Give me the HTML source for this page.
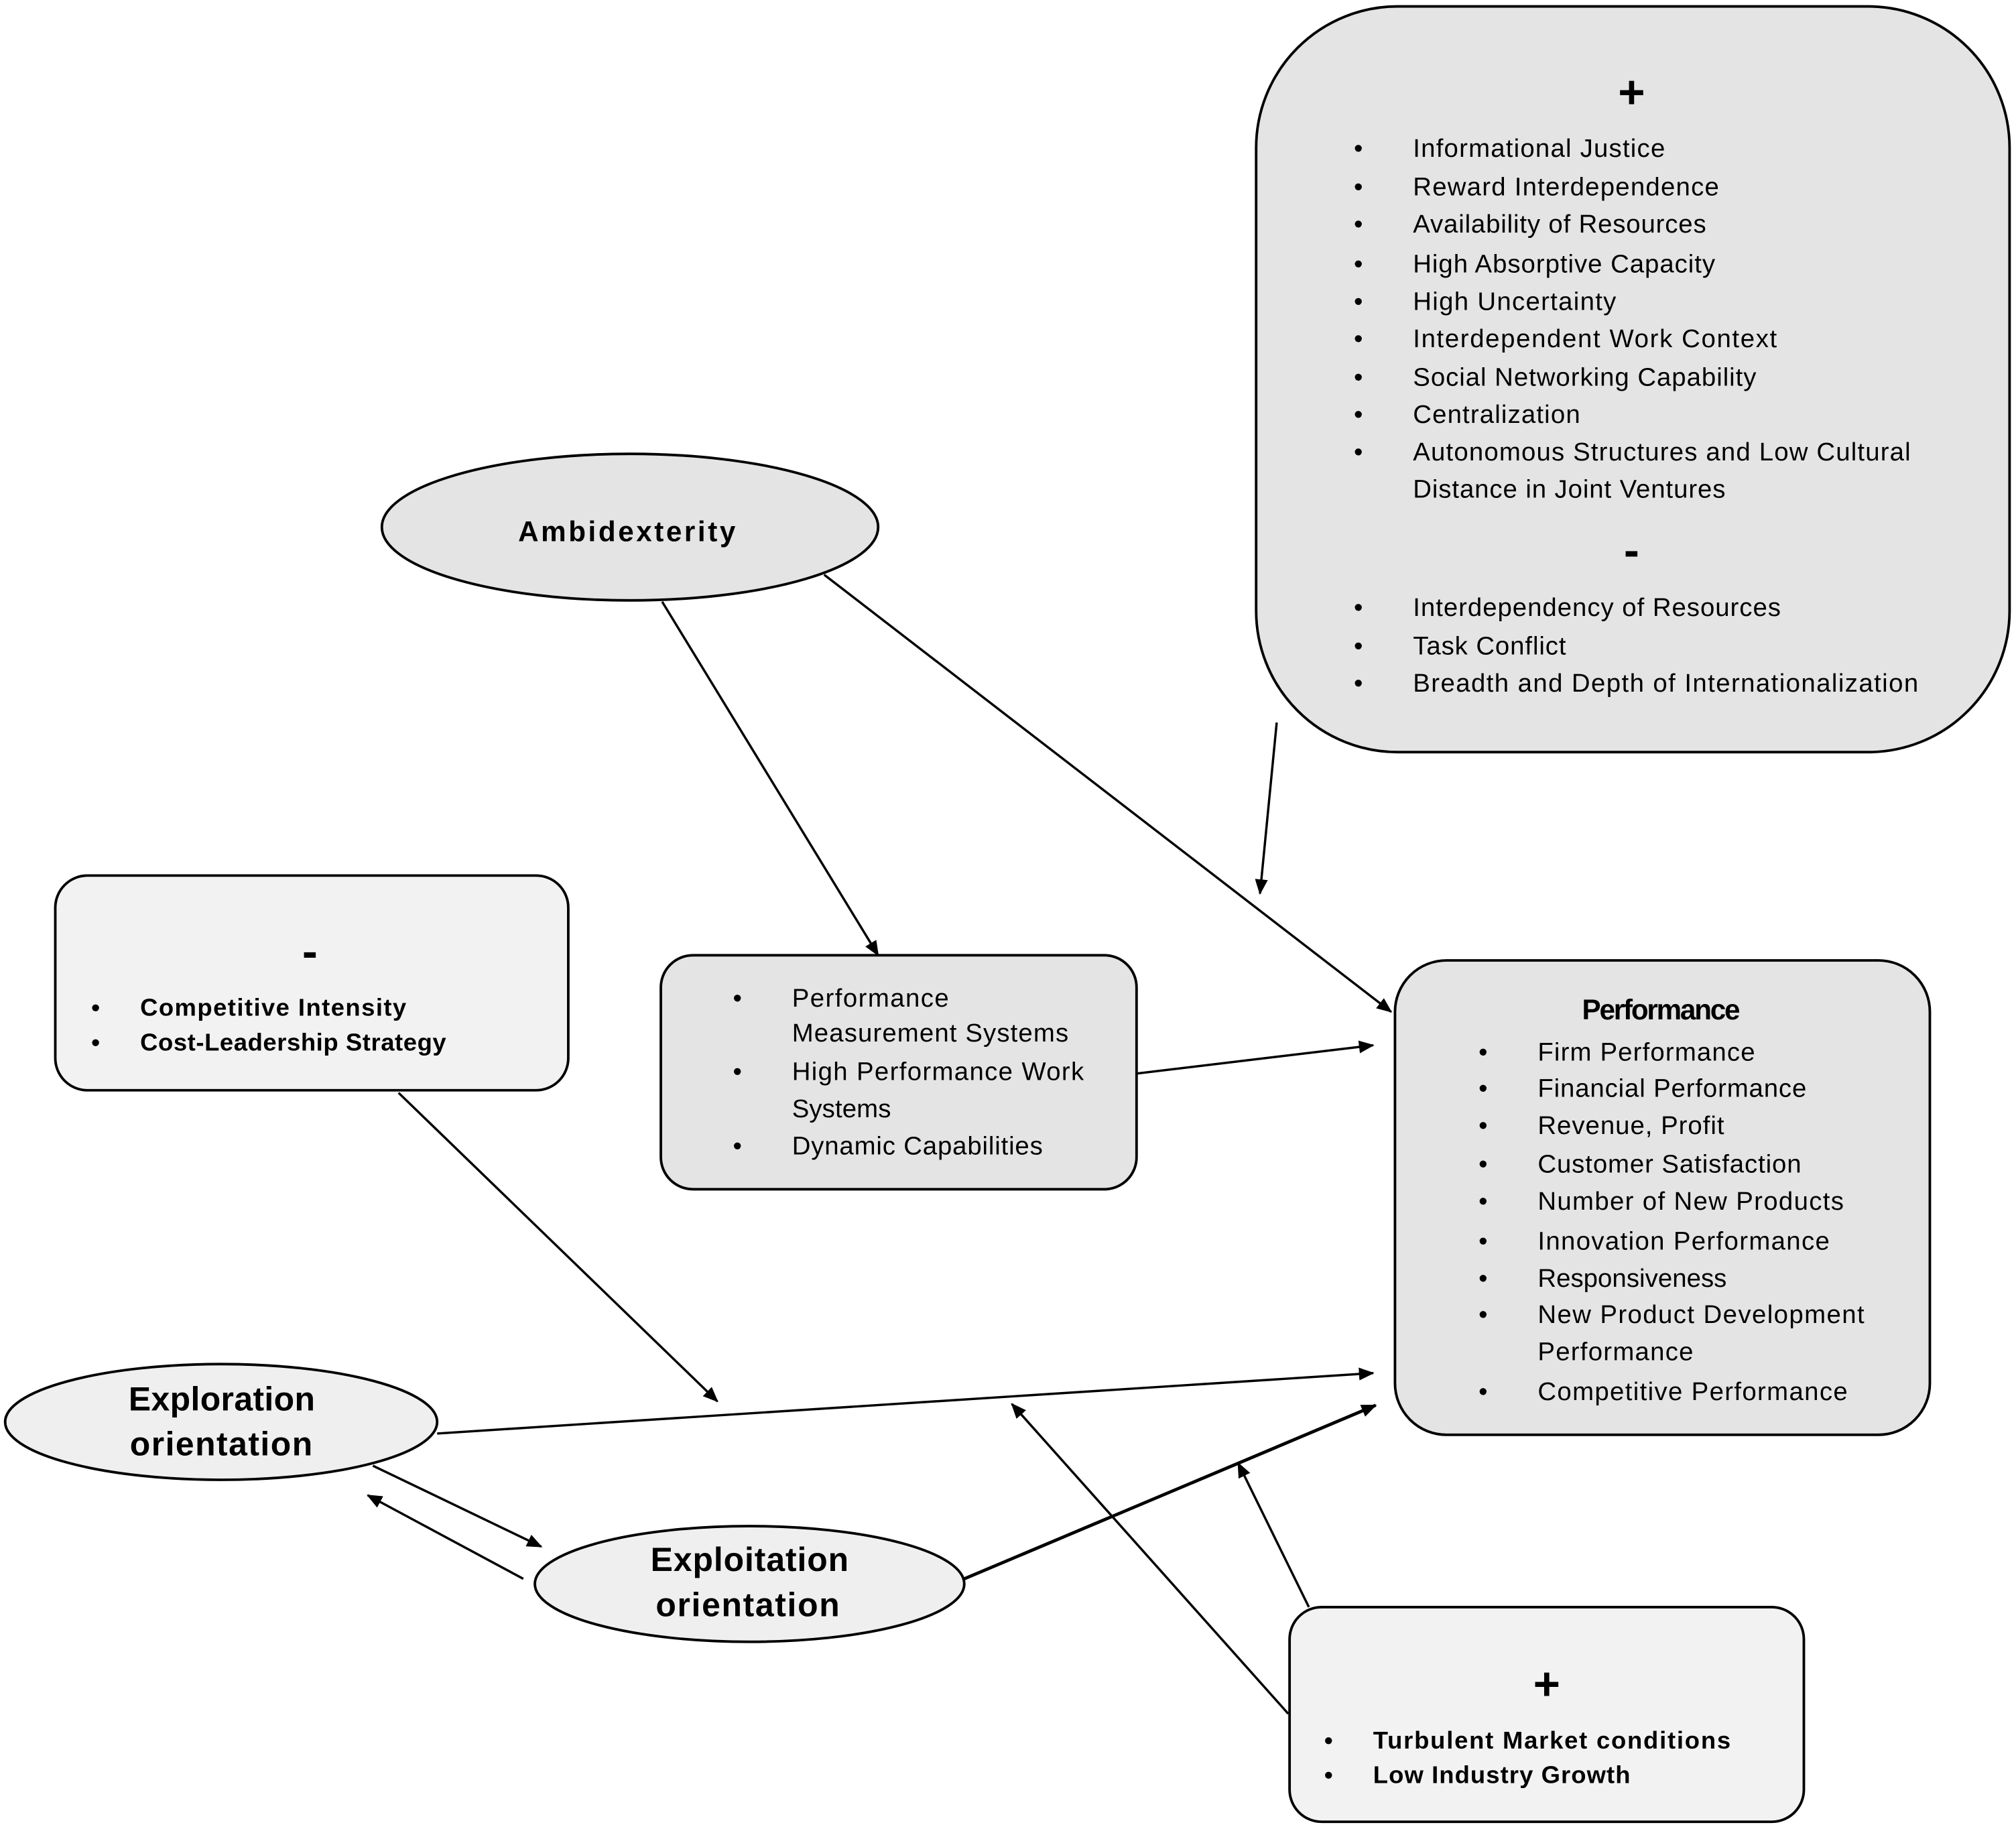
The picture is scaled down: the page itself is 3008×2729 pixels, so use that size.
<!DOCTYPE html>
<html><head><meta charset="utf-8"><style>html,body{margin:0;padding:0;background:#fff}svg{display:block}text{font-family:"Liberation Sans",sans-serif;fill:#000}</style></head><body>
<svg width="3008" height="2729" viewBox="0 0 1568 1422.6" preserveAspectRatio="none" xmlns="http://www.w3.org/2000/svg">
<defs><marker id="a" markerWidth="12" markerHeight="10" refX="11" refY="5" orient="auto" markerUnits="userSpaceOnUse"><path d="M0,0 L12,5 L0,10 z" fill="#000"/></marker></defs>
<rect width="1568" height="1423" fill="#fff"/>
<g stroke="#000" stroke-width="2">
<rect x="977" y="5" width="586" height="580" rx="110" fill="#e4e4e4"/>
<ellipse cx="490" cy="410" rx="193" ry="57" fill="#e4e4e4"/>
<rect x="43" y="681" width="399" height="167" rx="25" fill="#f2f2f2"/>
<rect x="514" y="743" width="370" height="182" rx="25" fill="#e4e4e4"/>
<rect x="1085" y="747" width="416" height="369" rx="40" fill="#e4e4e4"/>
<ellipse cx="172" cy="1106" rx="168" ry="45" fill="#efefef"/>
<ellipse cx="583" cy="1232" rx="167" ry="45" fill="#efefef"/>
<rect x="1003" y="1250" width="400" height="167" rx="25" fill="#f2f2f2"/>
</g>
<g stroke="#000" stroke-width="1.8" marker-end="url(#a)">
<line x1="515" y1="468" x2="683" y2="743"/>
<line x1="641" y1="447" x2="1082" y2="787"/>
<line x1="993" y1="562" x2="980" y2="695"/>
<line x1="884" y1="835" x2="1068" y2="813"/>
<line x1="310" y1="850" x2="558" y2="1090"/>
<line x1="340" y1="1115" x2="1068" y2="1068"/>
<line x1="290" y1="1140" x2="421" y2="1203"/>
<line x1="407" y1="1228" x2="286" y2="1163"/>
<line x1="750" y1="1228" x2="1070" y2="1093" stroke-width="2.5"/>
<line x1="1002" y1="1333" x2="787" y2="1092"/>
<line x1="1018" y1="1250" x2="963" y2="1138"/>
</g>
<g font-size="19" lengthAdjust="spacingAndGlyphs">
<text x="1269" y="84" text-anchor="middle" font-size="36" font-weight="bold">+</text>
<text x="1269" y="440" text-anchor="middle" font-size="36" font-weight="bold">-</text>
<g font-size="20">
<text x="1053" y="122">•</text><text x="1099" y="122" textLength="196">Informational Justice</text>
<text x="1053" y="152">•</text><text x="1099" y="152" textLength="238">Reward Interdependence</text>
<text x="1053" y="181">•</text><text x="1099" y="181" textLength="228">Availability of Resources</text>
<text x="1053" y="212">•</text><text x="1099" y="212" textLength="235">High Absorptive Capacity</text>
<text x="1053" y="241">•</text><text x="1099" y="241" textLength="158">High Uncertainty</text>
<text x="1053" y="270">•</text><text x="1099" y="270" textLength="283">Interdependent Work Context</text>
<text x="1053" y="300">•</text><text x="1099" y="300" textLength="267">Social Networking Capability</text>
<text x="1053" y="329">•</text><text x="1099" y="329" textLength="130">Centralization</text>
<text x="1053" y="358">•</text><text x="1099" y="358" textLength="387">Autonomous Structures and Low Cultural</text>
<text x="1099" y="387" textLength="243">Distance in Joint Ventures</text>
<text x="1053" y="479">•</text><text x="1099" y="479" textLength="286">Interdependency of Resources</text>
<text x="1053" y="509">•</text><text x="1099" y="509" textLength="119">Task Conflict</text>
<text x="1053" y="538">•</text><text x="1099" y="538" textLength="393">Breadth and Depth of Internationalization</text>
<text x="1292" y="793" text-anchor="middle" font-weight="bold" font-size="22" textLength="123">Performance</text>
<text x="1150" y="825">•</text><text x="1196" y="825" textLength="169">Firm Performance</text>
<text x="1150" y="853">•</text><text x="1196" y="853" textLength="209">Financial Performance</text>
<text x="1150" y="882">•</text><text x="1196" y="882" textLength="145">Revenue, Profit</text>
<text x="1150" y="912">•</text><text x="1196" y="912" textLength="205">Customer Satisfaction</text>
<text x="1150" y="941">•</text><text x="1196" y="941" textLength="238">Number of New Products</text>
<text x="1150" y="972">•</text><text x="1196" y="972" textLength="227">Innovation Performance</text>
<text x="1150" y="1001">•</text><text x="1196" y="1001" textLength="147">Responsiveness</text>
<text x="1150" y="1029">•</text><text x="1196" y="1029" textLength="254">New Product Development</text>
<text x="1196" y="1058" textLength="121">Performance</text>
<text x="1150" y="1089">•</text><text x="1196" y="1089" textLength="241">Competitive Performance</text>
<text x="570" y="783">•</text><text x="616" y="783" textLength="122">Performance</text>
<text x="616" y="810" textLength="215">Measurement Systems</text>
<text x="570" y="840">•</text><text x="616" y="840" textLength="227">High Performance Work</text>
<text x="616" y="869" textLength="77">Systems</text>
<text x="570" y="898">•</text><text x="616" y="898" textLength="195">Dynamic Capabilities</text>
</g>
<text x="241" y="752" text-anchor="middle" font-size="36" font-weight="bold">-</text>
<g font-weight="bold" font-size="19">
<text x="71" y="790">•</text><text x="109" y="790" textLength="207">Competitive Intensity</text>
<text x="71" y="817">•</text><text x="109" y="817" textLength="238">Cost-Leadership Strategy</text>
<text x="1030" y="1360">•</text><text x="1068" y="1360" textLength="278">Turbulent Market conditions</text>
<text x="1030" y="1387">•</text><text x="1068" y="1387" textLength="200">Low Industry Growth</text>
</g>
<text x="1203" y="1322" text-anchor="middle" font-size="36" font-weight="bold">+</text>
<g font-weight="bold">
<text x="403" y="421" font-size="22" textLength="169">Ambidexterity</text>
<text x="100" y="1097" font-size="26" textLength="145">Exploration</text>
<text x="101" y="1132" font-size="26" textLength="142">orientation</text>
<text x="506" y="1222" font-size="26" textLength="154">Exploitation</text>
<text x="510" y="1257" font-size="26" textLength="143">orientation</text>
</g>
</g>
</svg>
</body></html>
